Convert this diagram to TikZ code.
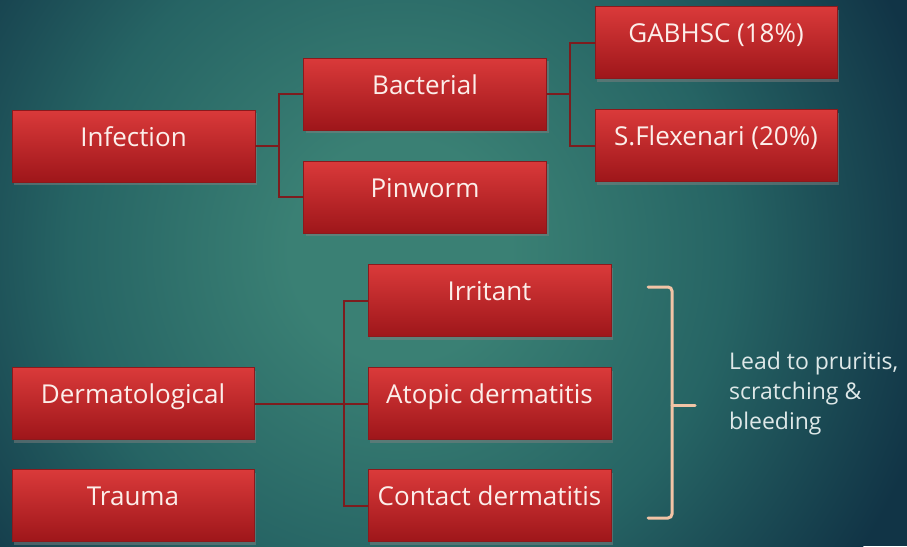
\documentclass[tikz,border=0pt]{standalone}
\usepackage{fontspec}
\setmainfont{Open Sans}
\usetikzlibrary{shadows}
\definecolor{bgin}{RGB}{58,128,116}
\definecolor{bgmid}{RGB}{38,100,100}
\definecolor{bgout}{RGB}{17,52,70}
\definecolor{boxtop}{RGB}{218,58,58}
\definecolor{boxbot}{RGB}{158,22,26}
\definecolor{boxline}{RGB}{140,25,28}
\definecolor{connc}{RGB}{125,28,30}
\definecolor{brk}{RGB}{242,196,166}
\definecolor{boxtxt}{RGB}{252,238,234}
\definecolor{sidetxt}{RGB}{222,232,232}
\pgfdeclareradialshading{bgshade}{\pgfpoint{0bp}{0bp}}{color(0bp)=(bgin); color(5bp)=(bgin); color(15bp)=(bgmid); color(25bp)=(bgout); color(50bp)=(bgout)}
\begin{document}
\begin{tikzpicture}[x=1pt,y=-1pt,
  box/.style={draw=boxline, line width=0.8pt, top color=boxtop, bottom color=boxbot,
    minimum width=243pt, minimum height=72pt, inner sep=0pt, text=boxtxt,
    font=\fontsize{26}{30}\selectfont, text height=12pt, text depth=12pt,
    drop shadow={shadow xshift=2pt, shadow yshift=-3pt, opacity=0.5}},
  conn/.style={draw=connc, line width=2pt},
  bracket/.style={draw=brk, line width=3pt, rounded corners=4pt, line cap=round}]
\useasboundingbox (0,0) rectangle (907,546);
\begin{scope}
  \clip (0,0) rectangle (907,546);
  \fill[bgout] (0,0) rectangle (907,546);
  \shade[shading=bgshade] (400,250) circle[radius=550pt];
\end{scope}

\node[box] (inf) at (133.5,146) {Infection};
\node[box] (bac) at (425,94) {Bacterial};
\node[box] (pin) at (425,197) {Pinworm};
\node[box, minimum width=242pt] (gab) at (716,42.5) {GABHSC (18\%)};
\node[box, minimum width=242pt] (sfl) at (716,145.5) {S.Flexenari (20\%)};
\node[box] (irr) at (489.5,300.5) {Irritant};
\node[box] (ato) at (489.5,403.5) {Atopic dermatitis};
\node[box] (con) at (489.5,505.5) {Contact dermatitis};
\node[box, minimum width=242pt] (der) at (133,403.5) {Dermatological};
\node[box, minimum width=242pt] (tra) at (133,505.5) {Trauma};

\coordinate (j1) at (279,146);
\coordinate (j2) at (570,94);
\coordinate (j3) at (344,403.5);
\draw[conn] (inf.east) -- (j1);
\draw[conn] (bac.west) -| (j1);
\draw[conn] (pin.west) -| (j1);
\draw[conn] (bac.east) -- (j2);
\draw[conn] (gab.west) -| (j2);
\draw[conn] (sfl.west) -| (j2);
\draw[conn] (der.east) -- (ato.west);
\draw[conn] (irr.west) -| (j3);
\draw[conn] (con.west) -| (j3);

\coordinate (bt) at (648,287);
\coordinate (bb) at (648,518);
\coordinate (bc) at (672,405);
\coordinate (bm) at (695,405);
\draw[bracket] (bt) -- (672,287) -- (672,518) -- (bb);
\draw[bracket, rounded corners=0pt] (bc) -- (bm);

\node[anchor=west, align=left, text=sidetxt, font=\fontsize{23}{30}\selectfont, inner sep=0pt] (note) at (729,394) {Lead to pruritis,\\scratching \&\\bleeding};
\end{tikzpicture}
\end{document}
